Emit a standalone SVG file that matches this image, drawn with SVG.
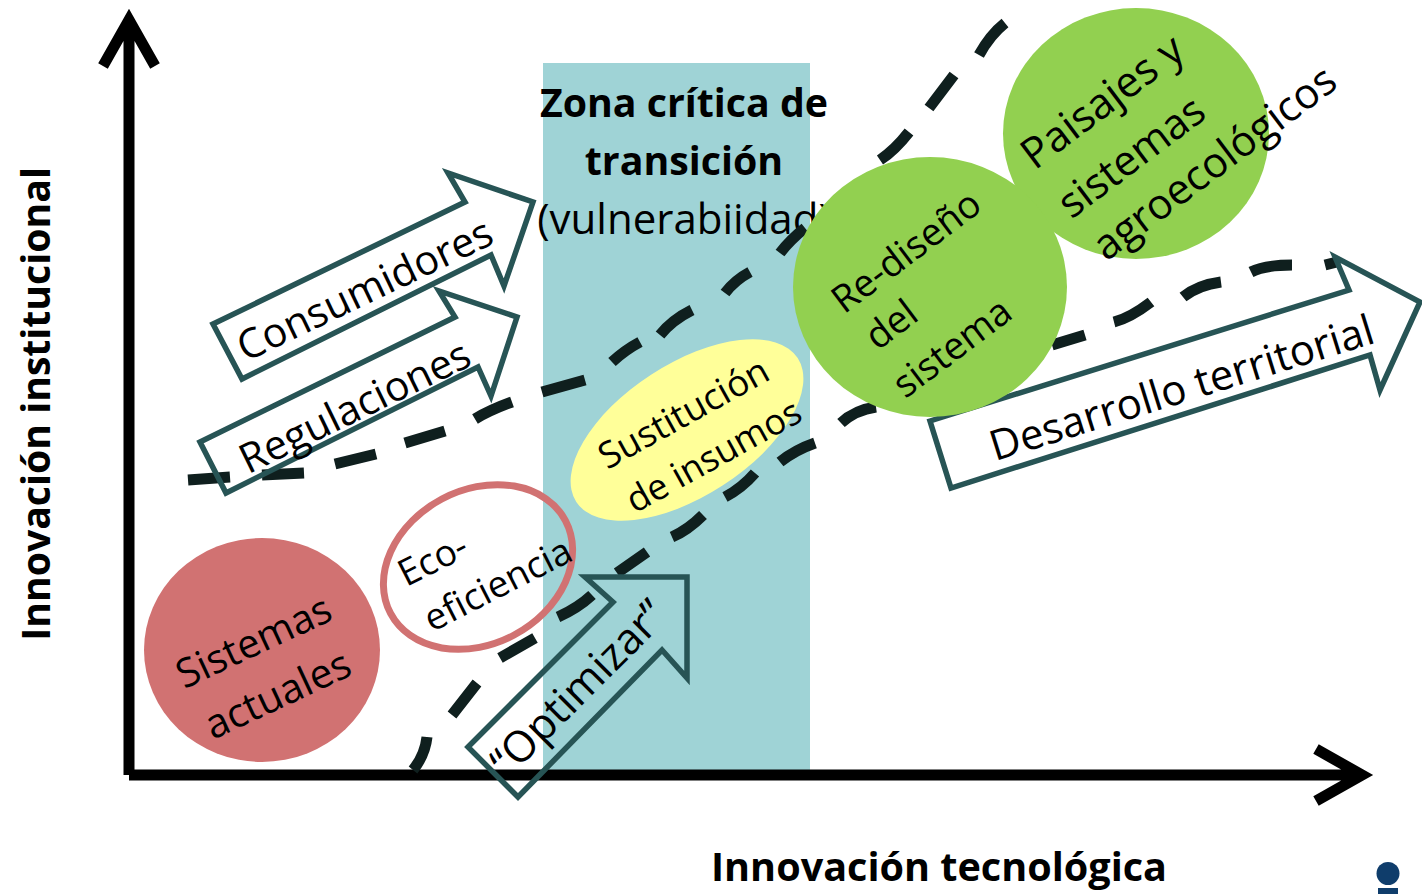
<svg xmlns="http://www.w3.org/2000/svg" width="1422" height="894" viewBox="0 0 1422 894">
<style>
text{font-family:"Open Sans","Noto Sans",sans-serif;fill:#000;text-anchor:middle;dominant-baseline:central}
.b{font-weight:700}
.arrow{fill:none;stroke:#275455;stroke-width:5.5}
.dash{fill:none;stroke:#0F1F1E;stroke-width:11}
.axis{fill:none;stroke:#000;stroke-width:11}
</style>
<rect width="1422" height="894" fill="#fff"/>
<g id="zona">
<rect x="543" y="63" width="267" height="707" fill="#9FD3D6"/>
<text class="b" x="684" y="102" font-size="39.300">Zona crítica de</text>
<text class="b" x="684" y="160" font-size="39.300">transición</text>
<text x="684" y="217" font-size="42">(vulnerabiidad)</text>
</g>
<g id="connectors">
<path class="axis" d="M129 775V20M103 66L129 20L155 66"/>
<path class="axis" d="M129 775H1362M1316 749L1362 775L1316 801"/>
<g class="dash">
<path d="M188 480L230 477M262 475L304 473M335 464L376 454M405 443L445 431M475 419Q490 410 512 402M542 392L585 380M612 362Q625 350 640 342M660 335Q672 320 692 310M725 293Q735 280 750 272M780 253Q790 240 805 228M880 160Q895 150 909 132M929 108L954 75M979 55Q990 35 1005 23"/>
<path d="M413 770Q425 755 427 737M452 715L477 683M500 658L535 638M558 617Q578 608 592 595M617 573L647 552M672 537Q688 530 703 515M725 497Q742 488 755 473M780 462Q795 450 815 443M841 423Q855 410 876 407M1052 345L1085 335M1114 322Q1130 318 1151 302M1183 297Q1198 285 1221 282M1251 272Q1265 265 1292 265M1325 265L1337 262"/>
</g>
</g>
<g id="consumidores">
<path class="arrow" d="M213 324L465 202L448 173L533 202L504 286L491 255L242 379Z"/>
<text x="364" y="288" font-size="41" transform="rotate(-25.500 364 288)">Consumidores</text>
</g>
<g id="regulaciones">
<path class="arrow" d="M200 442L455 317L439 291L517 317L491 396L478 367L226 493Z"/>
<text x="354" y="405" font-size="41" transform="rotate(-26 354 405)">Regulaciones</text>
</g>
<g id="optimizar">
<path class="arrow" d="M468 747L613 602L585 577H687V678L662 650L518 797Z"/>
<text x="577" y="687" font-size="43" transform="rotate(-45 577 687)">“Optimizar”</text>
</g>
<g id="desarrollo">
<path class="arrow" style="fill:#fff" d="M930 421L1349 290L1335 257L1420 302L1380 390L1370 355L951 488Z"/>
<text x="1181" y="386" font-size="42" transform="rotate(-17.300 1181 386)">Desarrollo territorial</text>
</g>
<g id="sistemas-actuales">
<ellipse cx="262" cy="650" rx="118" ry="112" fill="#D17272"/>
<text x="253" y="640" font-size="40" transform="rotate(-25 253 640)">Sistemas</text>
<text x="277" y="693" font-size="40.500" transform="rotate(-25 277 693)">actuales</text>
</g>
<g id="eco-eficiencia">
<ellipse cx="478" cy="567" rx="99" ry="77" transform="rotate(-28 478 567)" fill="none" stroke="#D17272" stroke-width="7"/>
<text x="432" y="558" font-size="37" transform="rotate(-27 432 558)">Eco-</text>
<text x="497" y="583" font-size="37" transform="rotate(-27 497 583)">eficiencia</text>
</g>
<g id="sustitucion">
<ellipse cx="687" cy="430" rx="132" ry="66" transform="rotate(-33 687 430)" fill="#FFFF99"/>
<text x="683" y="412" font-size="36.500" transform="rotate(-29 683 412)">Sustitución</text>
<text x="713" y="455" font-size="36" transform="rotate(-29 713 455)">de insumos</text>
</g>
<g id="paisajes">
<ellipse cx="1136" cy="133.500" rx="133" ry="125.500" fill="#92D050"/>
<text x="1101" y="100" font-size="42.500" transform="rotate(-37 1101 100)">Paisajes y</text>
<text x="1130" y="155" font-size="42" transform="rotate(-37 1130 155)">sistemas</text>
<text x="1213" y="161" font-size="42" transform="rotate(-37 1213 161)">agroecológicos</text>
</g>
<g id="rediseno">
<ellipse cx="930" cy="287" rx="137" ry="130" fill="#92D050"/>
<text x="905" y="250" font-size="38" transform="rotate(-37 905 250)">Re-diseño</text>
<text x="890" y="323" font-size="38" transform="rotate(-37 890 323)">del</text>
<text x="951" y="346" font-size="38" transform="rotate(-37 951 346)">sistema</text>
</g>
<g id="ejes-etiquetas">
<text class="b" x="34" y="404" font-size="39.200" transform="rotate(-90 34 404)">Innovación institucional</text>
<text class="b" x="939" y="866" font-size="39.600">Innovación tecnológica</text>
</g>
<g id="logo">
<circle cx="1388" cy="873.500" r="11.500" fill="#0F3D6B"/>
<rect x="1378" y="888" width="20" height="6" fill="#0F3D6B"/>
</g>
</svg>
